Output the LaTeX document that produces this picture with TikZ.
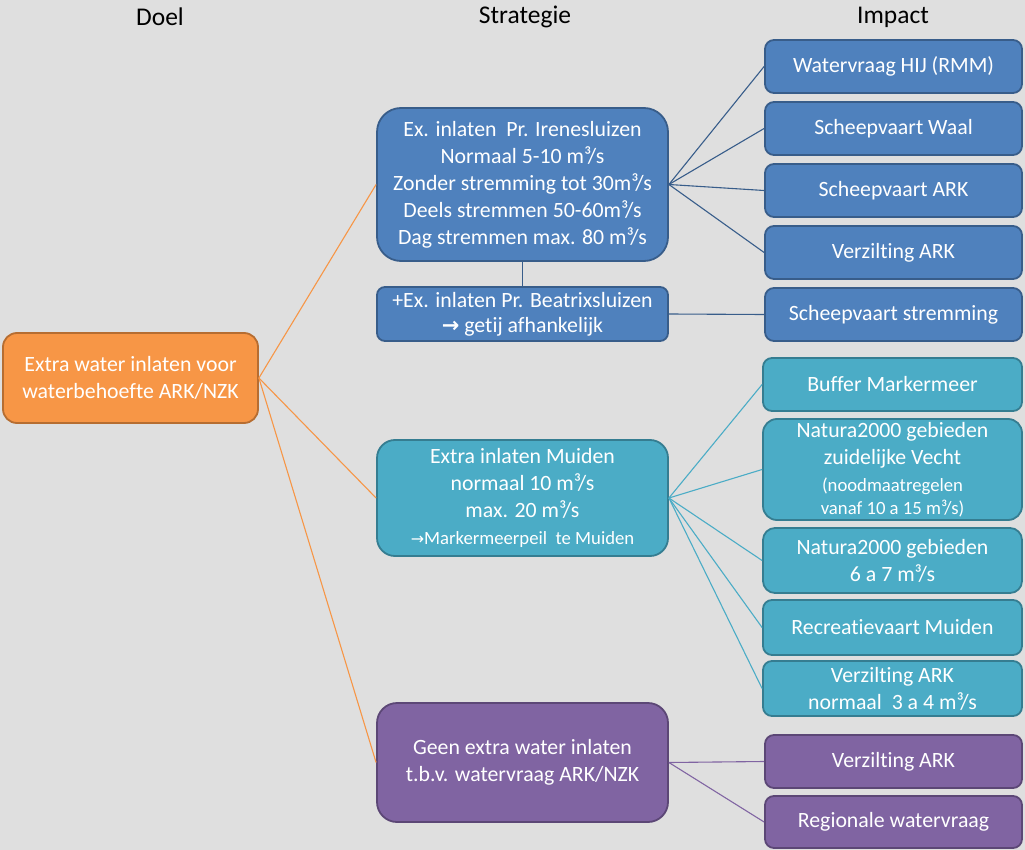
\documentclass[tikz,border=0pt]{standalone}
\usepackage{fontspec}
\setmainfont[Ligatures={NoCommon}]{Carlito}
\newfontfamily\arrowfont{DejaVu Sans}
\definecolor{bg}{HTML}{DFDFDF}
\definecolor{orfill}{HTML}{F79646}
\definecolor{ordraw}{HTML}{B66D31}
\definecolor{blfill}{HTML}{4F81BD}
\definecolor{bldraw}{HTML}{385D8A}
\definecolor{tefill}{HTML}{4BACC6}
\definecolor{tedraw}{HTML}{357D91}
\definecolor{pufill}{HTML}{8064A2}
\definecolor{pudraw}{HTML}{5C4776}
\begin{document}
\begin{tikzpicture}[x=1pt,y=-1pt,
  box/.style={rectangle, inner sep=0pt, line width=1.8pt, text=white, align=center,
    font=\fontsize{21.8}{27}\selectfont},
  orbox/.style={box, fill=orfill, draw=ordraw, rounded corners=14pt},
  blbox/.style={box, fill=blfill, draw=bldraw},
  tebox/.style={box, fill=tefill, draw=tedraw},
  pubox/.style={box, fill=pufill, draw=pudraw},
  imp/.style={minimum width=257pt, rounded corners=9pt},
  hdr/.style={font=\fontsize{25.5}{30}\selectfont, text=black},
  orline/.style={draw=orfill, line width=1.1pt},
  blline/.style={draw=bldraw, line width=1.1pt},
  teline/.style={draw=tefill, line width=1.1pt},
  puline/.style={draw=pufill, line width=1.1pt}
]
\fill[bg] (0,0) rectangle (1025,850);
\useasboundingbox (0,0) rectangle (1025,850);

% headers
\node[hdr] (hd) at (160,17) {Doel};
\node[hdr] (hs) at (525,17) {Strategie};
\node[hdr] (hi) at (893,17) {Impact};

% goal
\node[orbox, minimum width=255pt, minimum height=90pt] (goal) at (130.5,378)
  {Extra water inlaten voor\\waterbehoefte ARK/NZK};

% strategies
\node[blbox, minimum width=291pt, minimum height=153pt, rounded corners=24pt] (s1) at (522.5,184.5)
  {Ex. inlaten\ \ Pr. Irenesluizen\\Normaal 5-10 m³/s\\Zonder stremming tot 30m³/s\\Deels stremmen 50-60m³/s\\Dag stremmen max. 80 m³/s};
\node[blbox, minimum width=291pt, minimum height=54pt, rounded corners=8pt, font=\fontsize{21.8}{25}\selectfont] (s1b) at (522.5,314)
  {+Ex. inlaten Pr. Beatrixsluizen\\{\arrowfont\bfseries\fontsize{21}{25}\selectfont →}\ getij afhankelijk};
\node[tebox, minimum width=291pt, minimum height=116pt, rounded corners=18pt] (s2) at (522.5,498)
  {Extra inlaten Muiden\\normaal 10 m³/s\\max. 20 m³/s\\{\fontsize{18.7}{24}\selectfont{\arrowfont\fontsize{16}{24}\selectfont →}Markermeerpeil\ \ te Muiden}};
\node[pubox, minimum width=291pt, minimum height=119pt, rounded corners=20pt] (s3) at (522.5,762.5)
  {Geen extra water inlaten\\t.b.v. watervraag ARK/NZK};

% impacts blue
\node[blbox, imp, minimum height=53pt] (i1) at (893.5,66.5) {Watervraag HIJ (RMM)};
\node[blbox, imp, minimum height=53pt] (i2) at (893.5,128.5) {Scheepvaart Waal};
\node[blbox, imp, minimum height=53pt] (i3) at (893.5,190.5) {Scheepvaart ARK};
\node[blbox, imp, minimum height=53pt] (i4) at (893.5,252.5) {Verzilting ARK};
\node[blbox, imp, minimum height=53pt] (i5) at (893.5,314.5) {Scheepvaart stremming};

% impacts teal
\node[tebox, imp, minimum width=259pt, minimum height=53pt] (t1) at (892.5,384.5) {Buffer Markermeer};
\node[tebox, imp, minimum width=259pt, minimum height=101pt, rounded corners=14pt] (t2) at (892.5,469.5)
  {\fontsize{21.8}{25}\selectfont Natura2000 gebieden\\zuidelijke Vecht\\{\fontsize{18.7}{26}\selectfont (noodmaatregelen}\\[-4pt]{\fontsize{18.7}{22}\selectfont vanaf 10 a 15 m³/s)}};
\node[tebox, imp, minimum width=259pt, minimum height=65pt, rounded corners=12pt] (t3) at (892.5,560.5)
  {Natura2000 gebieden\\6 a 7 m³/s};
\node[tebox, imp, minimum width=259pt, minimum height=55pt] (t4) at (892.5,627.5) {Recreatievaart Muiden};
\node[tebox, imp, minimum width=259pt, minimum height=55pt] (t5) at (892.5,688.5)
  {\fontsize{21.8}{25}\selectfont Verzilting ARK\\normaal\ \ 3 a 4 m³/s};

% impacts purple
\node[pubox, imp, minimum height=53pt] (p1) at (893.5,761.5) {Verzilting ARK};
\node[pubox, imp, minimum height=52pt] (p2) at (893.5,822) {Regionale watervraag};

% connectors
\draw[orline] (goal.east) -- (s1.west);
\draw[orline] (goal.east) -- (s2.west);
\draw[orline] (goal.east) -- (s3.west);

\draw[blline] (s1.south) -- (s1b.north);
\draw[blline] (s1.east) -- (i1.west);
\draw[blline] (s1.east) -- (i2.west);
\draw[blline] (s1.east) -- (i3.west);
\draw[blline] (s1.east) -- (i4.west);
\draw[blline] (s1b.east) -- (i5.west);

\draw[teline] (s2.east) -- (t1.west);
\draw[teline] (s2.east) -- (t2.west);
\draw[teline] (s2.east) -- (t3.west);
\draw[teline] (s2.east) -- (t4.west);
\draw[teline] (s2.east) -- (t5.west);

\draw[puline] (s3.east) -- (p1.west);
\draw[puline] (s3.east) -- (p2.west);
\end{tikzpicture}
\end{document}
